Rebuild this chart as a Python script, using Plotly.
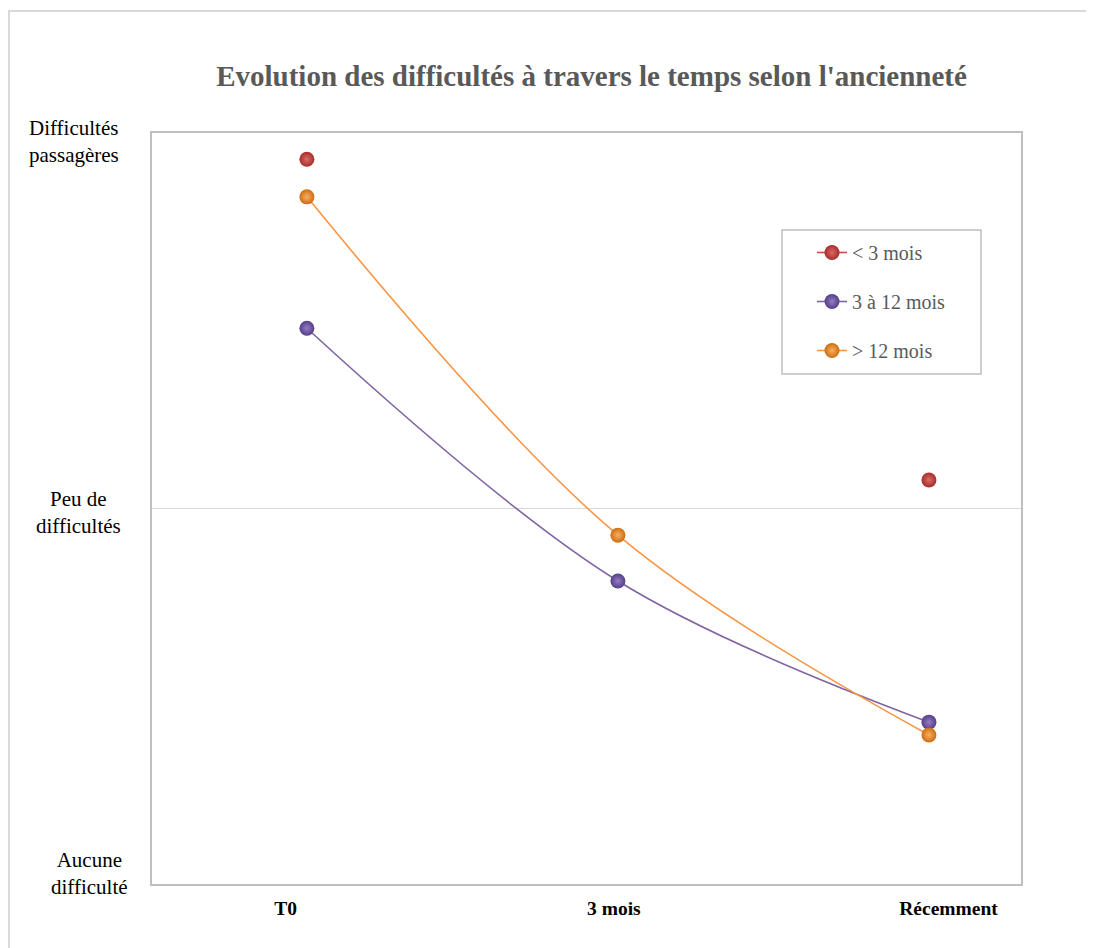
import plotly.graph_objects as go

# data (0 = Aucune, 1 = Peu, 2 = Passagères)
periods = ["T0", "3 mois", "Récemment"]
period_x = [1, 2, 3]
less_3 = [1.93, None, 1.076]
from_3_to_12 = [1.48, 0.807, 0.431]
more_12 = [1.83, 0.929, 0.397]
level_labels = ["Aucune<br>difficulté", "Peu de<br>difficultés", "Difficultés<br>passagères"]
level_values = [0, 1, 2]

FONT = "Liberation Serif, Times New Roman, serif"

# the page body adds an 8px offset, so the figure is laid out in page px - 8
W, H = 1086, 940
L, R, T, B = 144, 73, 125, 64
PW, PH = W - L - R, H - T - B


def px_x(page_x):
    return (page_x - 8 - L) / PW


def px_y(page_y):
    return (H - B - (page_y - 8)) / PH


series = [
    ("< 3 mois", less_3, "#DB6A67", "#A52D2A", "#C0504D"),
    ("3 à 12 mois", from_3_to_12, "#967CC4", "#533E88", "#8064A2"),
    ("> 12 mois", more_12, "#FAAE62", "#CC6E12", "#F79646"),
]

fig = go.Figure()
for i, (name, vals, mlight, mdark, lcol) in enumerate(series):
    fig.add_trace(go.Scatter(
        x=period_x, y=vals, name=name,
        mode="lines+markers",
        connectgaps=False,
        line=dict(color=lcol, width=1.6, shape="spline", smoothing=1.0),
        # radial gradient: gradient.color is the centre, marker.color the rim
        marker=dict(size=15, color=mdark,
                    gradient=dict(type="radial", color=mlight),
                    line=dict(width=0)),
        legendgroup=str(i),
    ))

# y level labels placed left of the plot
label_pos = [(873.5, 89.5, "center"), (512, 78, "center"), (141.5, 27, "left")]
for (py, px, al), txt in zip(label_pos, level_labels):
    fig.add_annotation(
        x=px_x(px), xref="paper", y=px_y(py), yref="paper",
        text=txt, showarrow=False, align=al,
        xanchor="center" if al == "center" else "left",
        yanchor="middle",
        font=dict(family=FONT, size=21, color="#000000"),
    )

# outer chart frame
fig.add_shape(type="rect", xref="paper", yref="paper",
              x0=px_x(9), x1=px_x(1110),
              y0=px_y(980), y1=px_y(11),
              line=dict(color="#D9D9D9", width=2), layer="below")

# legend frame
fig.add_shape(type="rect", xref="paper", yref="paper",
              x0=px_x(782), x1=px_x(981), y0=px_y(374), y1=px_y(230),
              line=dict(color="#BFBFBF", width=1.5), layer="above")

fig.update_layout(
    width=W, height=H,
    margin=dict(l=L, r=R, t=T, b=B),
    paper_bgcolor="white", plot_bgcolor="white",
    title=dict(text="<b>Evolution des difficultés à travers le temps selon l'ancienneté</b>",
               x=(591.5 - 8) / W, xanchor="center", y=1 - (76 - 8) / H, yanchor="middle",
               font=dict(family=FONT, size=29, color="#595959")),
    xaxis=dict(range=[0.502, 3.296], tickvals=[0.932, 1.987, 3.063], ticktext=periods,
               tickfont=dict(family=FONT, size=19.5, color="#000000", weight="bold"),
               showgrid=False, zeroline=False, ticks="", ticklabelstandoff=6,
               showline=True, mirror=True, linecolor="#BFBFBF", linewidth=1.5),
    yaxis=dict(range=[0, 2], tickvals=level_values, showticklabels=False,
               showgrid=True, gridcolor="#D9D9D9", gridwidth=1.2, zeroline=False,
               showline=True, mirror=True, linecolor="#BFBFBF", linewidth=1.5),
    legend=dict(x=px_x(812), y=px_y(233), xanchor="left", yanchor="top",
                borderwidth=0, bgcolor="rgba(0,0,0,0)",
                font=dict(family=FONT, size=20, color="#595959"),
                tracegroupgap=20, itemwidth=30),
    showlegend=True,
)

fig.write_html("out.html")
